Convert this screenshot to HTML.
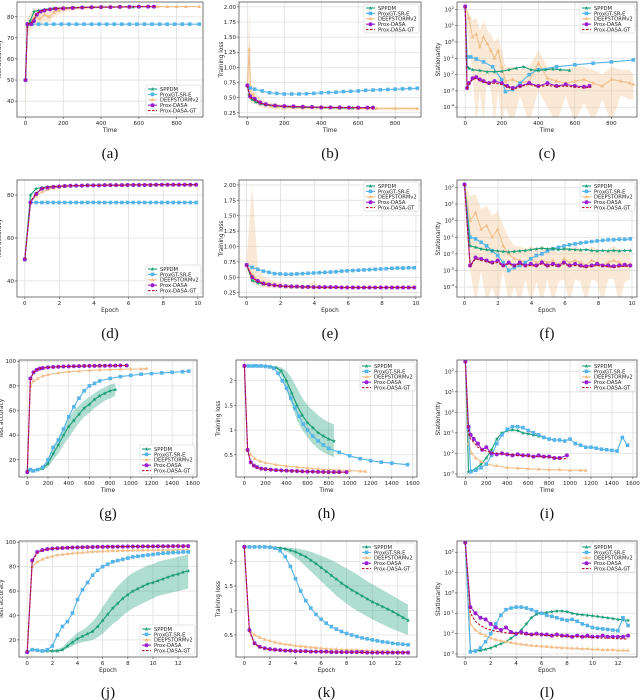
<!DOCTYPE html>
<html><head><meta charset="utf-8"><style>
html,body{margin:0;padding:0;background:#fff;width:640px;height:700px;overflow:hidden}
svg text{font-family:"DejaVu Sans","Liberation Sans",sans-serif}
.cap{font-family:"Liberation Serif","DejaVu Serif",serif}
</style></head><body>
<svg id="fig" width="640" height="700" viewBox="0 0 640 700" xmlns="http://www.w3.org/2000/svg"></svg>
<script>
// ---------- shared x arrays ----------
const dX=[0,0.33,0.66,0.99,1.32,1.65,1.98,2.31,2.64,2.97,3.3,3.63,3.96,4.29,4.62,4.95,5.28,5.61,5.94,6.27,6.6,6.93,7.26,7.59,7.92,8.25,8.58,8.91,9.24,9.57,9.9];
const jX=[0,0.4,0.8,1.2,1.6,2,2.4,2.8,3.2,3.6,4,4.4,4.8,5.2,5.6,6,6.4,6.8,7.2,7.6,8,8.4,8.8,9.2,9.6,10,10.4,10.8,11.2,11.6,12,12.4,12.8];
const legendLabels=["SPPDM","ProxGT-SR-E","DEEPSTORMv2","Prox-DASA","Prox-DASA-GT"];
// ---------- panel (a) ----------
const aSppdmX=[0,10,25,45,70,100,150,200,300,400,500,570];
const aSppdmY=[50,76,78,82.5,83,83.5,84,84.2,84.5,84.6,84.7,84.7];
const aProxX=[0,10,35,70,110,150,190,230,270,310,350,390,430,470,510,550,590,630,670,710,750,790,830,870,920];
const aProxY=[50,76.5,76.5,76.5,76.5,76.5,76.5,76.5,76.5,76.5,76.5,76.5,76.5,76.5,76.5,76.5,76.5,76.5,76.5,76.5,76.5,76.5,76.5,76.5,76.5];
const aDeepX=[0,10,25,50,75,100,125,150,175,200,250,300,350,400,450,500,550,600,650,700,750,800,850,920];
const aDeepY=[50,75,78,80,79,81,80,82,83,83.5,84,84.2,84.3,84.5,84.5,84.6,84.7,84.7,84.8,84.8,84.8,84.8,84.8,84.8];
const aDeepLo=[34,70,73,76,75,78,77,80,81,82,83,83.5,83.5,84,84,84.2,84.3,84.4,84.5,84.5,84.5,84.5,84.5,84.5];
const aDeepHi=[60,79,82,84,83,84,84,85,85,85,85,85,85,85,85,85,85,85,85,85,85,85,85,85];
const aDasaX=[0,10,30,45,60,80,100,130,160,200,250,300,350,400,450,500,550,600,650,680];
const aDasaY=[50,76.5,76.5,78,81,82.5,83,83.5,83.8,84,84.2,84.4,84.5,84.6,84.6,84.7,84.7,84.8,84.8,84.8];
const aGtX=[0,10,30,45,60,80,100,130,160,200,250,300,350,400,450,500,550,600,650,690];
const aGtY=[50,76.5,77,79,81.5,82.8,83.2,83.6,83.9,84.1,84.3,84.4,84.5,84.6,84.6,84.7,84.7,84.8,84.8,84.8];
// ---------- panel (b) ----------
const bSppdmX=[0,10,25,45,70,100,150,200,300,400,500,570];
const bSppdmY=[0.7,0.55,0.47,0.43,0.4,0.38,0.36,0.35,0.34,0.335,0.33,0.33];
const bProxX=[0,15,40,80,120,160,200,240,280,320,360,400,440,480,520,560,600,640,680,720,760,800,840,880,920];
const bProxY=[0.7,0.66,0.64,0.61,0.58,0.57,0.56,0.56,0.56,0.565,0.57,0.58,0.585,0.59,0.6,0.605,0.61,0.62,0.625,0.63,0.635,0.64,0.645,0.65,0.655];
const bDeepX=[0,10,20,30,50,70,100,130,160,200,250,300,400,500,600,700,800,920];
const bDeepY=[0.7,1.3,0.5,0.55,0.45,0.4,0.38,0.36,0.35,0.34,0.335,0.33,0.33,0.325,0.32,0.32,0.32,0.32];
const bDeepLo=[0.6,0.6,0.4,0.42,0.38,0.34,0.33,0.31,0.3,0.3,0.3,0.3,0.3,0.3,0.29,0.29,0.29,0.29];
const bDeepHi=[0.8,2.0,0.7,0.7,0.55,0.48,0.45,0.42,0.4,0.38,0.37,0.36,0.36,0.35,0.35,0.35,0.35,0.35];
const bDasaX=[0,15,40,70,100,150,200,250,300,350,400,450,500,550,600,650,680];
const bDasaY=[0.7,0.52,0.48,0.42,0.39,0.37,0.36,0.355,0.35,0.345,0.34,0.34,0.34,0.335,0.335,0.335,0.335];
const bGtX=[0,15,40,70,100,150,200,250,300,350,400,450,500,550,600,650,690];
const bGtY=[0.7,0.5,0.46,0.41,0.38,0.365,0.355,0.35,0.345,0.34,0.34,0.335,0.335,0.335,0.33,0.33,0.33];
// ---------- panel (c) ----------
const cSppdmX=[0,10,20,40,80,120,160,200,240,280,320,360,400,440,480,520,570];
const cSppdmY=[150,0.03,0.025,0.02,0.018,0.015,0.015,0.016,0.02,0.025,0.03,0.02,0.018,0.02,0.022,0.02,0.018];
const cProxX=[0,10,30,60,100,150,200,220,260,300,350,400,500,600,700,800,920];
const cProxY=[150,0.12,0.12,0.09,0.06,0.03,0.005,0.0009,0.0012,0.003,0.01,0.02,0.03,0.04,0.05,0.06,0.08];
const cDeepX=[0,20,40,60,80,100,120,140,160,180,200,220,260,300,350,400,450,500,550,600,650,700,750,800,850,900,920];
const cDeepY=[150,30,2,3,0.5,2,0.8,0.3,0.1,0.3,0.03,0.004,0.005,0.003,0.004,0.05,0.006,0.004,0.003,0.004,0.005,0.003,0.002,0.005,0.004,0.003,0.0025];
const cDeepLo=[100,0.5,0.01,0.00001,0.001,0.00001,0.01,0.001,0.00001,0.001,0.00001,0.0001,0.00001,0.0005,0.00001,0.001,0.0001,0.00001,0.0005,0.00001,0.0002,0.00001,0.0003,0.00001,0.0005,0.0003,0.0003];
const cDeepHi=[200,60,20,30,5,20,6,3,1,2,0.3,0.03,0.03,0.02,0.03,0.3,0.03,0.02,0.02,0.03,0.03,0.02,0.01,0.03,0.02,0.02,0.01];
const cDasaX=[0,10,20,40,60,80,100,130,160,200,230,260,300,350,400,450,500,550,600,650,680];
const cDasaY=[150,0.0015,0.003,0.006,0.007,0.005,0.004,0.003,0.004,0.003,0.002,0.0015,0.002,0.003,0.002,0.003,0.002,0.0025,0.002,0.0018,0.002];
const cGtX=[0,10,20,40,60,80,100,130,160,200,230,260,300,350,400,450,500,550,600,650,690];
const cGtY=[150,0.0012,0.0025,0.005,0.006,0.0045,0.0035,0.0028,0.003,0.0025,0.0018,0.0012,0.0018,0.0025,0.0018,0.0022,0.0018,0.002,0.0017,0.0015,0.0017];
// ---------- panel (d) ----------
const dSppdmY=[50,80,83,83.5,83.8,84,84.1,84.2,84.3,84.4,84.4,84.5,84.5,84.5,84.6,84.6,84.6,84.6,84.7,84.7,84.7,84.7,84.7,84.7,84.8,84.8,84.8,84.8,84.8,84.8,84.8];
const dProxY=[50,76.5,76.5,76.5,76.5,76.5,76.5,76.5,76.5,76.5,76.5,76.5,76.5,76.5,76.5,76.5,76.5,76.5,76.5,76.5,76.5,76.5,76.5,76.5,76.5,76.5,76.5,76.5,76.5,76.5,76.5];
const dDeepY=[50,77,79.5,81.5,82.5,83.2,83.6,84,84.2,84.3,84.4,84.5,84.5,84.6,84.6,84.6,84.7,84.7,84.7,84.7,84.8,84.8,84.8,84.8,84.8,84.8,84.8,84.8,84.8,84.8,84.8];
const dDasaY=[50,76.5,80.5,83,83.5,83.8,84,84.2,84.3,84.4,84.4,84.5,84.5,84.5,84.6,84.6,84.6,84.6,84.7,84.7,84.7,84.7,84.7,84.8,84.8,84.8,84.8,84.8,84.8,84.8,84.8];
const dGtY=[50,77,81,83.2,83.6,83.9,84.1,84.2,84.3,84.4,84.4,84.5,84.5,84.5,84.6,84.6,84.6,84.6,84.7,84.7,84.7,84.7,84.7,84.8,84.8,84.8,84.8,84.8,84.8,84.8,84.8];
// ---------- panel (e) ----------
const eSppdmY=[0.7,0.45,0.41,0.39,0.38,0.37,0.36,0.355,0.35,0.35,0.345,0.345,0.34,0.34,0.34,0.34,0.34,0.335,0.335,0.335,0.335,0.335,0.335,0.335,0.335,0.335,0.335,0.335,0.335,0.335,0.335];
const eProxY=[0.7,0.66,0.63,0.6,0.58,0.56,0.555,0.55,0.55,0.555,0.56,0.565,0.57,0.575,0.58,0.585,0.59,0.6,0.605,0.61,0.615,0.62,0.625,0.63,0.635,0.64,0.645,0.65,0.65,0.655,0.655];
const eDeepY=[0.7,0.55,0.45,0.42,0.4,0.38,0.37,0.36,0.355,0.35,0.345,0.345,0.34,0.34,0.34,0.34,0.34,0.335,0.335,0.335,0.335,0.335,0.335,0.335,0.335,0.335,0.335,0.335,0.335,0.335,0.335];
const eDeepLo=[0.6,0.4,0.36,0.34,0.33,0.32,0.32,0.31,0.31,0.31,0.31,0.31,0.3,0.31,0.31,0.31,0.31,0.31,0.31,0.31,0.31,0.31,0.31,0.31,0.31,0.31,0.31,0.31,0.31,0.31,0.31];
const eDeepHi=[0.8,2.0,0.7,0.5,0.47,0.44,0.42,0.4,0.39,0.38,0.37,0.37,0.45,0.36,0.36,0.36,0.36,0.36,0.36,0.36,0.36,0.36,0.36,0.36,0.36,0.36,0.36,0.36,0.36,0.36,0.36];
const eDasaY=[0.7,0.5,0.44,0.4,0.38,0.37,0.36,0.355,0.35,0.35,0.345,0.345,0.34,0.34,0.34,0.34,0.34,0.335,0.335,0.335,0.335,0.335,0.335,0.335,0.335,0.335,0.335,0.335,0.335,0.335,0.335];
const eGtY=[0.7,0.49,0.43,0.395,0.375,0.365,0.355,0.35,0.345,0.345,0.34,0.34,0.34,0.335,0.335,0.335,0.335,0.335,0.335,0.335,0.335,0.335,0.335,0.335,0.335,0.335,0.335,0.335,0.335,0.335,0.335];
// ---------- panel (f) ----------
const fSppdmY=[150,0.03,0.025,0.02,0.018,0.016,0.015,0.014,0.013,0.014,0.015,0.016,0.018,0.02,0.022,0.02,0.021,0.018,0.02,0.019,0.018,0.017,0.018,0.016,0.015,0.016,0.015,0.016,0.015,0.016,0.016];
const fProxY=[150,0.1,0.08,0.05,0.03,0.015,0.008,0.003,0.001,0.0015,0.002,0.003,0.005,0.008,0.01,0.015,0.02,0.025,0.03,0.035,0.04,0.045,0.05,0.055,0.06,0.065,0.07,0.07,0.075,0.075,0.08];
const fDeepY=[150,1,3,0.3,0.5,0.1,0.3,0.03,0.01,0.005,0.004,0.003,0.005,0.003,0.004,0.003,0.004,0.002,0.005,0.003,0.004,0.003,0.002,0.004,0.003,0.002,0.003,0.004,0.003,0.002,0.0025];
const fDeepLo=[100,0.001,0.00001,0.001,0.00001,0.0001,0.00001,0.001,0.00001,0.0001,0.00001,0.0003,0.00001,0.0002,0.00001,0.0003,0.00001,0.0002,0.0003,0.00001,0.0003,0.0002,0.00001,0.0003,0.0002,0.00001,0.0003,0.0003,0.00001,0.0002,0.0003];
const fDeepHi=[200,30,40,5,8,2,4,0.5,0.1,0.03,0.03,0.02,0.03,0.02,0.03,0.02,0.03,0.01,0.03,0.02,0.03,0.02,0.01,0.03,0.02,0.01,0.02,0.03,0.02,0.01,0.015];
const fDasaY=[150,0.002,0.006,0.005,0.004,0.003,0.004,0.002,0.003,0.002,0.003,0.002,0.0025,0.002,0.003,0.002,0.0025,0.002,0.003,0.002,0.0025,0.002,0.0018,0.002,0.0025,0.002,0.002,0.0018,0.002,0.0022,0.002];
const fGtY=[150,0.0018,0.005,0.004,0.0035,0.0025,0.003,0.0018,0.0025,0.0018,0.0025,0.0018,0.002,0.0018,0.0025,0.0018,0.002,0.0017,0.0025,0.0018,0.002,0.0018,0.0015,0.0018,0.002,0.0018,0.0017,0.0015,0.0017,0.0018,0.0017];
// ---------- panel (g) ----------
const gSppdmX=[0,20,50,100,150,200,250,300,350,400,450,500,550,600,650,700,750,800,850];
const gSppdmY=[10,12,11,12,13,17,25,32,40,47,52,57,62,65,69,72,74,76,77];
const gSppdmLo=[10,11,10,11,12,14,20,25,32,38,44,50,55,58,62,65,68,70,72];
const gSppdmHi=[10,13,12,13,15,20,30,38,46,54,60,64,68,71,74,77,79,81,82];
const gProxX=[0,30,60,100,150,200,250,300,350,400,450,500,550,600,650,700,800,900,1000,1100,1200,1300,1400,1500,1560];
const gProxY=[10,12,11,12,14,20,30,36,45,55,63,70,76,80,82,84,86,87.5,88.5,89.5,90,90.5,91,91.5,92];
const gDeepX=[0,30,60,100,150,200,300,400,500,600,700,800,900,1000,1100,1150];
const gDeepY=[10,80,84,86,88,89,90.5,91.5,92,92.5,93,93.3,93.5,93.7,93.8,94];
const gDasaX=[0,30,60,90,120,150,200,250,300,350,400,450,500,550,600,650,700,750,800,850,900,960];
const gDasaY=[10,86,91,93,94,94.5,95,95.3,95.5,95.7,95.8,95.9,96,96.1,96.2,96.2,96.3,96.3,96.4,96.4,96.5,96.5];
const gGtX=[0,30,60,90,120,150,200,250,300,350,400,450,500,550,600,650,700,750,800,850,900,980];
const gGtY=[10,85,91,93,94,94.5,95,95.3,95.5,95.7,95.8,95.9,96,96.1,96.2,96.2,96.3,96.3,96.4,96.4,96.5,96.5];
// ---------- panel (h) ----------
const hSppdmX=[0,50,100,150,200,250,300,350,400,450,500,550,600,650,700,750,800,850];
const hSppdmY=[2.3,2.3,2.3,2.3,2.3,2.29,2.27,2.2,2.0,1.75,1.5,1.3,1.15,1.05,0.95,0.88,0.82,0.78];
const hSppdmLo=[2.3,2.3,2.3,2.3,2.3,2.28,2.25,2.1,1.8,1.5,1.2,1.0,0.85,0.72,0.62,0.55,0.5,0.45];
const hSppdmHi=[2.3,2.3,2.3,2.3,2.3,2.3,2.29,2.27,2.2,2.05,1.85,1.65,1.5,1.4,1.3,1.22,1.16,1.12];
const hProxX=[0,40,80,120,160,200,240,280,320,360,400,440,480,520,560,600,650,700,750,800,900,1000,1100,1200,1300,1400,1550];
const hProxY=[2.3,2.3,2.3,2.3,2.3,2.29,2.28,2.25,2.15,2.0,1.85,1.65,1.45,1.28,1.12,1.0,0.88,0.78,0.7,0.63,0.55,0.48,0.42,0.38,0.35,0.33,0.3];
const hDeepX=[0,30,60,100,150,200,300,400,500,600,700,800,900,1000,1100,1150];
const hDeepY=[2.3,0.6,0.5,0.42,0.37,0.34,0.3,0.27,0.25,0.23,0.21,0.2,0.19,0.18,0.17,0.165];
const hDasaX=[0,30,60,90,120,160,200,250,300,350,400,450,500,550,600,650,700,750,800,850,900,970];
const hDasaY=[2.3,0.6,0.35,0.28,0.25,0.22,0.21,0.2,0.19,0.185,0.18,0.175,0.17,0.165,0.16,0.16,0.155,0.155,0.15,0.15,0.15,0.15];
const hGtX=[0,30,60,90,120,160,200,250,300,350,400,450,500,550,600,650,700,750,800,850,900,980];
const hGtY=[2.3,0.58,0.34,0.27,0.24,0.215,0.205,0.195,0.185,0.18,0.175,0.17,0.165,0.16,0.158,0.155,0.152,0.15,0.148,0.146,0.145,0.145];
// ---------- panel (i) ----------
const iSppdmX=[0,30,60,100,150,200,250,300,350,400,450,500,550,600,650,700,750,800,850];
const iSppdmY=[300,0.0013,0.0014,0.0018,0.003,0.006,0.015,0.05,0.1,0.13,0.14,0.13,0.1,0.09,0.08,0.07,0.06,0.05,0.045];
const iProxX=[0,30,50,100,150,200,250,300,350,400,450,500,550,600,650,700,750,800,850,900,950,1000,1050,1100,1150,1200,1250,1300,1350,1400,1450,1500,1550];
const iProxY=[300,0.15,0.0013,0.0015,0.002,0.003,0.008,0.03,0.08,0.15,0.2,0.2,0.18,0.13,0.1,0.08,0.06,0.05,0.045,0.045,0.04,0.05,0.03,0.025,0.02,0.02,0.018,0.016,0.015,0.014,0.013,0.06,0.025];
const iDeepX=[0,30,60,100,150,200,300,400,500,600,700,800,900,1000,1100,1150];
const iDeepY=[300,0.03,0.01,0.006,0.004,0.003,0.0025,0.002,0.0019,0.0018,0.0017,0.0016,0.0016,0.0015,0.0015,0.0015];
const iDasaX=[0,30,50,80,120,160,200,250,300,350,400,450,500,550,600,650,700,750,800,850,900,970];
const iDasaY=[300,0.2,0.08,0.05,0.03,0.015,0.02,0.01,0.009,0.01,0.009,0.008,0.009,0.008,0.008,0.007,0.008,0.007,0.007,0.006,0.006,0.008];
const iGtX=[0,30,50,80,120,160,200,250,300,350,400,450,500,550,600,650,700,750,800,850,900,980];
const iGtY=[300,0.1,0.05,0.035,0.02,0.015,0.013,0.011,0.01,0.0095,0.009,0.0085,0.008,0.008,0.0075,0.007,0.007,0.0065,0.0065,0.006,0.0055,0.0055];
// ---------- panel (j) ----------
const jSppdmY=[10,12,11.5,11,11,11,11,12,15,18,21,23,25,27,31,36,41,46,50,54,57,60,62,64,66,67,68.5,70,71.5,73,74,75.5,76.5];
const jSppdmLo=[10,11,10.5,10,10,10,10,11,13,15,17,18,19,20,22,25,29,33,36,40,43,46,48,50,52,54,56,57,58,59,60,61,62];
const jSppdmHi=[10,13,12.5,12,12,12,12.5,14,18,22,26,28,31,35,40,47,53,59,64,68,72,75,77,79,81,82,84,85,86,87,88,89,90];
const jProxY=[10,12,11.5,11,12,15,24,31,35,42,53,61,67,73,77,80,82,84,85,86,87,88,88.5,89,89.5,90,90.5,91,91.2,91.5,91.7,92,92];
const jDeepY=[10,80,84,86,87.5,88.5,89.5,90,90.5,91,91.3,91.6,92,92.2,92.4,92.6,92.8,93,93,93.1,93.2,93.3,93.4,93.4,93.5,93.5,93.6,93.6,93.7,93.7,93.8,93.8,93.8];
const jDasaY=[10,85,92,93.5,94.3,94.8,95.1,95.3,95.5,95.7,95.8,95.9,96,96.1,96.2,96.2,96.3,96.3,96.4,96.4,96.5,96.5,96.5,96.6,96.6,96.6,96.7,96.7,96.7,96.8,96.8,96.8,96.8];
const jGtY=[10,84,91.5,93.3,94.2,94.7,95,95.3,95.5,95.7,95.8,95.9,96,96.1,96.2,96.2,96.3,96.3,96.4,96.4,96.5,96.5,96.5,96.6,96.6,96.6,96.7,96.7,96.7,96.8,96.8,96.8,96.8];
// ---------- panel (k) ----------
const kSppdmY=[2.3,2.3,2.3,2.3,2.3,2.3,2.29,2.28,2.26,2.23,2.2,2.15,2.1,2.03,1.96,1.88,1.8,1.72,1.64,1.56,1.49,1.42,1.36,1.3,1.24,1.18,1.13,1.08,1.03,0.98,0.92,0.86,0.8];
const kSppdmLo=[2.3,2.3,2.3,2.3,2.3,2.3,2.28,2.26,2.22,2.16,2.08,2.0,1.9,1.8,1.7,1.6,1.5,1.4,1.3,1.22,1.14,1.06,1.0,0.94,0.88,0.82,0.77,0.72,0.67,0.62,0.58,0.54,0.5];
const kSppdmHi=[2.3,2.3,2.3,2.3,2.3,2.3,2.3,2.3,2.29,2.28,2.27,2.25,2.23,2.2,2.16,2.12,2.08,2.03,1.98,1.92,1.86,1.8,1.74,1.67,1.6,1.54,1.48,1.42,1.36,1.3,1.24,1.18,1.12];
const kProxY=[2.3,2.3,2.3,2.3,2.3,2.29,2.27,2.22,2.1,1.9,1.65,1.4,1.2,1.05,0.92,0.82,0.74,0.67,0.62,0.57,0.53,0.5,0.47,0.44,0.42,0.4,0.38,0.36,0.35,0.33,0.32,0.31,0.3];
const kDeepY=[2.3,0.6,0.5,0.45,0.41,0.38,0.35,0.33,0.31,0.3,0.28,0.27,0.26,0.25,0.24,0.23,0.22,0.21,0.21,0.2,0.2,0.19,0.19,0.18,0.18,0.18,0.17,0.17,0.17,0.16,0.16,0.16,0.16];
const kDasaY=[2.3,0.6,0.33,0.26,0.23,0.21,0.2,0.19,0.18,0.18,0.17,0.17,0.17,0.16,0.16,0.16,0.16,0.15,0.15,0.15,0.15,0.15,0.15,0.15,0.14,0.14,0.14,0.14,0.14,0.14,0.14,0.14,0.14];
const kGtY=[2.3,0.58,0.32,0.25,0.22,0.2,0.19,0.185,0.18,0.175,0.17,0.17,0.165,0.16,0.16,0.155,0.155,0.15,0.15,0.15,0.15,0.145,0.145,0.145,0.14,0.14,0.14,0.14,0.14,0.14,0.14,0.14,0.14];
// ---------- panel (l) ----------
const lSppdmY=[300,0.0013,0.0014,0.0015,0.0017,0.002,0.0025,0.0032,0.004,0.006,0.009,0.015,0.03,0.06,0.09,0.1,0.11,0.12,0.13,0.13,0.12,0.1,0.09,0.085,0.08,0.075,0.07,0.065,0.06,0.055,0.05,0.048,0.045];
const lProxY=[300,0.0013,0.0014,0.002,0.004,0.01,0.03,0.08,0.15,0.18,0.2,0.2,0.18,0.15,0.12,0.1,0.08,0.07,0.06,0.05,0.045,0.05,0.04,0.03,0.025,0.02,0.018,0.017,0.016,0.015,0.014,0.06,0.025];
const lDeepY=[300,0.03,0.015,0.01,0.008,0.006,0.005,0.0045,0.004,0.0036,0.0033,0.003,0.0028,0.0026,0.0025,0.0024,0.0023,0.0022,0.0021,0.002,0.002,0.0019,0.0019,0.0018,0.0018,0.0017,0.0017,0.0016,0.0016,0.0016,0.0015,0.0015,0.0015];
const lDasaY=[300,0.2,0.1,0.06,0.05,0.03,0.02,0.015,0.02,0.012,0.01,0.012,0.01,0.009,0.01,0.009,0.009,0.008,0.009,0.008,0.008,0.007,0.008,0.007,0.008,0.007,0.007,0.008,0.007,0.007,0.007,0.007,0.008];
const lGtY=[300,0.1,0.04,0.025,0.018,0.015,0.013,0.012,0.011,0.01,0.01,0.0095,0.009,0.009,0.0085,0.0085,0.008,0.008,0.0075,0.0075,0.007,0.007,0.007,0.0068,0.0066,0.0065,0.0063,0.006,0.006,0.0058,0.0056,0.0055,0.0055];

// ---------- rendering ----------
const NS="http://www.w3.org/2000/svg";
const svg=document.getElementById('fig');
const COL={sppdm:"#1b9e77",prox:"#56b4e9",deep:"#f2c08c",dasa:"#9a1fd0",gt:"#b2182b"};
const MK={sppdm:"star",prox:"square",deep:"tri",dasa:"circle",gt:"none"};
function el(tag,attrs,parent){const e=document.createElementNS(NS,tag);for(const k in attrs)e.setAttribute(k,attrs[k]);(parent||svg).appendChild(e);return e;}
function marker(g,kind,x,y,c){
  let m;
  if(kind==="square")m=el('rect',{x:x-1.8,y:y-1.8,width:3.6,height:3.6,fill:c},g);
  else if(kind==="circle")m=el('circle',{cx:x,cy:y,r:2,fill:c},g);
  else if(kind==="tri")m=el('path',{d:`M${x},${y-2.2}L${x+2},${y+1.4}L${x-2},${y+1.4}Z`,fill:c},g);
  else if(kind==="star")m=el('path',{d:`M${x},${y-2}L${x+0.6},${y-0.6}L${x+2},${y-0.5}L${x+0.9},${y+0.5}L${x+1.3},${y+2}L${x},${y+1.1}L${x-1.3},${y+2}L${x-0.9},${y+0.5}L${x-2},${y-0.5}L${x-0.6},${y-0.6}Z`,fill:c},g);
  if(m){}
}
function panel(p){
  const g=el('g',{});
  
  
  const [x0,x1]=p.px,[y0,y1]=p.py;
  const sx=v=>x0+(v-p.xr[0])/(p.xr[1]-p.xr[0])*(x1-x0);
  const tf=v=>p.log?Math.log10(v):v;
  const sy=v=>y1-(tf(v)-p.yr[0])/(p.yr[1]-p.yr[0])*(y1-y0);
  const cid='clip-'+p.id;
  const cp=el('clipPath',{id:cid},g);el('rect',{x:x0,y:y0,width:x1-x0,height:y1-y0},cp);
  p.xt.forEach(t=>{const X=sx(t);const gl=el('line',{x1:X,x2:X,y1:y0,y2:y1,stroke:"#e0e0e0","stroke-width":0.8},g);
    
    
    el('line',{x1:X,x2:X,y1:y1,y2:y1+2,stroke:"#444","stroke-width":0.6},g);
    const tx=el('text',{x:X,y:y1+8,"font-size":5.5,"text-anchor":"middle",fill:"#222"},g);tx.textContent=t;
    
    });
  p.yt.forEach(t=>{const Y=p.log?y1-(t-p.yr[0])/(p.yr[1]-p.yr[0])*(y1-y0):sy(t);const gl=el('line',{x1:x0,x2:x1,y1:Y,y2:Y,stroke:"#e0e0e0","stroke-width":0.8},g);
    
    
    el('line',{x1:x0-2,x2:x0,y1:Y,y2:Y,stroke:"#444","stroke-width":0.6},g);
    const tx=el('text',{x:x0-3,y:Y+2,"font-size":5.5,"text-anchor":"end",fill:"#222"},g);
    
    
    if(p.log){tx.textContent='10';const ts=el('tspan',{dy:-2.5,"font-size":3.8},tx);ts.textContent=t;}
    else tx.textContent=p.yfmt?t.toFixed(2):t;});
  const dg=el('g',{"clip-path":`url(#${cid})`},g);
  
  
  p.series.forEach(s=>{if(!s.lo)return;
    let d='';s.x.forEach((v,i)=>{d+=(i?'L':'M')+sx(v).toFixed(1)+','+sy(s.hi[i]).toFixed(1);});
    for(let i=s.x.length-1;i>=0;i--)d+='L'+sx(s.x[i]).toFixed(1)+','+sy(s.lo[i]).toFixed(1);
    const b=el('path',{d:d+'Z',fill:COL[s.k],opacity:0.35},dg);
    
    });
  p.series.forEach(s=>{
    const pts=s.x.map((v,i)=>sx(v).toFixed(1)+','+sy(s.y[i]).toFixed(1)).join(' ');
    const ln=el('polyline',{points:pts,fill:"none",stroke:COL[s.k],"stroke-width":1.1,"stroke-dasharray":s.k==="gt"?"2.5,1.5":"none"},dg);
    
    
    s.x.forEach((v,i)=>marker(dg,MK[s.k],sx(v),sy(s.y[i]),COL[s.k]));});
  const fr=el('rect',{x:x0,y:y0,width:x1-x0,height:y1-y0,fill:"none",stroke:"#555","stroke-width":0.8},g);
  
  
  const xl=el('text',{x:(x0+x1)/2,y:y1+15,"font-size":5.8,"text-anchor":"middle",fill:"#222"},g);xl.textContent=p.xl;
  
  
  const ylx=x0-(p.log?17:16);
  const yl=el('text',{x:ylx,y:(y0+y1)/2,"font-size":5.8,"text-anchor":"middle",fill:"#222",transform:`rotate(-90 ${ylx} ${(y0+y1)/2})`},g);yl.textContent=p.yl;
  
  
  const lw=55,lh=29;const lx=x1-lw-2;const ly=p.leg==="low"?y1-lh-3:y0+2;
  const lg=el('g',{},g);
  
  
  el('rect',{x:lx,y:ly,width:lw,height:lh,fill:"#fff","fill-opacity":0.9,stroke:"#ccc","stroke-width":0.5,rx:1},lg);
  ["sppdm","prox","deep","dasa","gt"].forEach((k,i)=>{const yy=ly+4+i*5.4;
    const ent=el('g',{},lg);
    
    
    el('line',{x1:lx+2,x2:lx+11,y1:yy,y2:yy,stroke:COL[k],"stroke-width":1.1,"stroke-dasharray":k==="gt"?"2.5,1.5":"none"},ent);
    marker(ent,MK[k],lx+6.5,yy,COL[k]);
    const t=el('text',{x:lx+14,y:yy+1.9,"font-size":5.2,fill:"#222"},ent);t.textContent=legendLabels[i];});
  const cap=el('text',{x:(x0+x1)/2,y:p.capY,"font-size":15,"text-anchor":"middle",fill:"#111",class:"cap"},g);cap.textContent='('+p.id+')';
  
  
}
function S(k,x,y,lo,hi){return {k,x,y,lo,hi};}
const R=[[2,117],[180,297],[360,477],[541,657]];
const accT=[40,50,60,70,80],lossT=[0.25,0.5,0.75,1.0,1.25,1.5,1.75,2.0];
const C1=[17,203],C2=[239,421],C3=[457,637],C1b=[19,197],C2b=[236,417];
const T=[0,200,400,600,800],E=[0,2,4,6,8,10],T2=[0,200,400,600,800,1000,1200,1400,1600],E2=[0,2,4,6,8,10,12];
const pan=[
 {id:'a',px:C1,py:R[0],xr:[-45,940],yr:[32.5,87],xt:T,yt:accT,xl:'Time',yl:'Test accuracy',leg:'low',capY:158,
  series:[S('deep',aDeepX,aDeepY,aDeepLo,aDeepHi),S('prox',aProxX,aProxY),S('sppdm',aSppdmX,aSppdmY),S('dasa',aDasaX,aDasaY),S('gt',aGtX,aGtY)]},
 {id:'b',px:C2,py:R[0],xr:[-45,940],yr:[0.18,2.08],xt:T,yt:lossT,yfmt:1,xl:'Time',yl:'Training loss',leg:'high',capY:158,
  series:[S('deep',bDeepX,bDeepY,bDeepLo,bDeepHi),S('prox',bProxX,bProxY),S('sppdm',bSppdmX,bSppdmY),S('dasa',bDasaX,bDasaY),S('gt',bGtX,bGtY)]},
 {id:'c',px:C3,py:R[0],xr:[-45,940],yr:[-4.6,2.45],log:1,xt:T,yt:[-4,-3,-2,-1,0,1,2],xl:'Time',yl:'Stationarity',leg:'high',capY:158,
  series:[S('deep',cDeepX,cDeepY,cDeepLo,cDeepHi),S('prox',cProxX,cProxY),S('sppdm',cSppdmX,cSppdmY),S('dasa',cDasaX,cDasaY),S('gt',cGtX,cGtY)]},
 {id:'d',px:C1,py:R[1],xr:[-0.45,10.3],yr:[32.5,87],xt:E,yt:[40,60,80],xl:'Epoch',yl:'Test accuracy',leg:'low',capY:338,
  series:[S('deep',dX,dDeepY),S('prox',dX,dProxY),S('sppdm',dX,dSppdmY),S('dasa',dX,dDasaY),S('gt',dX,dGtY)]},
 {id:'e',px:C2,py:R[1],xr:[-0.45,10.3],yr:[0.18,2.08],xt:E,yt:lossT,yfmt:1,xl:'Epoch',yl:'Training loss',leg:'high',capY:338,
  series:[S('deep',dX,eDeepY,eDeepLo,eDeepHi),S('prox',dX,eProxY),S('sppdm',dX,eSppdmY),S('dasa',dX,eDasaY),S('gt',dX,eGtY)]},
 {id:'f',px:C3,py:R[1],xr:[-0.45,10.3],yr:[-4.6,2.45],log:1,xt:E,yt:[-4,-3,-2,-1,0,1,2],xl:'Epoch',yl:'Stationarity',leg:'high',capY:338,
  series:[S('deep',dX,fDeepY,fDeepLo,fDeepHi),S('prox',dX,fProxY),S('sppdm',dX,fSppdmY),S('dasa',dX,fDasaY),S('gt',dX,fGtY)]},
 {id:'g',px:C1b,py:R[2],xr:[-80,1640],yr:[6,101],xt:T2,yt:[20,40,60,80,100],xl:'Time',yl:'Test accuracy',leg:'low',capY:518,
  series:[S('sppdm',gSppdmX,gSppdmY,gSppdmLo,gSppdmHi),S('deep',gDeepX,gDeepY),S('prox',gProxX,gProxY),S('dasa',gDasaX,gDasaY),S('gt',gGtX,gGtY)]},
 {id:'h',px:C2b,py:R[2],xr:[-80,1640],yr:[0.05,2.42],xt:T2,yt:[0.5,1.0,1.5,2.0],xl:'Time',yl:'Training loss',leg:'high',capY:518,
  series:[S('sppdm',hSppdmX,hSppdmY,hSppdmLo,hSppdmHi),S('deep',hDeepX,hDeepY),S('prox',hProxX,hProxY),S('dasa',hDasaX,hDasaY),S('gt',hGtX,hGtY)]},
 {id:'i',px:C3,py:R[2],xr:[-80,1640],yr:[-3.15,2.55],log:1,xt:T2,yt:[-3,-2,-1,0,1,2],xl:'Time',yl:'Stationarity',leg:'high',capY:518,
  series:[S('sppdm',iSppdmX,iSppdmY),S('deep',iDeepX,iDeepY),S('prox',iProxX,iProxY),S('dasa',iDasaX,iDasaY),S('gt',iGtX,iGtY)]},
 {id:'j',px:C1b,py:R[3],xr:[-0.65,13.5],yr:[6,101],xt:E2,yt:[20,40,60,80,100],xl:'Epoch',yl:'Test accuracy',leg:'low',capY:697,
  series:[S('sppdm',jX,jSppdmY,jSppdmLo,jSppdmHi),S('deep',jX,jDeepY),S('prox',jX,jProxY),S('dasa',jX,jDasaY),S('gt',jX,jGtY)]},
 {id:'k',px:C2b,py:R[3],xr:[-0.65,13.5],yr:[0.05,2.42],xt:E2,yt:[0.5,1.0,1.5,2.0],xl:'Epoch',yl:'Training loss',leg:'high',capY:697,
  series:[S('sppdm',jX,kSppdmY,kSppdmLo,kSppdmHi),S('deep',jX,kDeepY),S('prox',jX,kProxY),S('dasa',jX,kDasaY),S('gt',jX,kGtY)]},
 {id:'l',px:C3,py:R[3],xr:[-0.65,13.5],yr:[-3.15,2.55],log:1,xt:E2,yt:[-3,-2,-1,0,1,2],xl:'Epoch',yl:'Stationarity',leg:'high',capY:697,
  series:[S('sppdm',jX,lSppdmY),S('deep',jX,lDeepY),S('prox',jX,lProxY),S('dasa',jX,lDasaY),S('gt',jX,lGtY)]}
];
pan.forEach(panel);
</script>
</body></html>
